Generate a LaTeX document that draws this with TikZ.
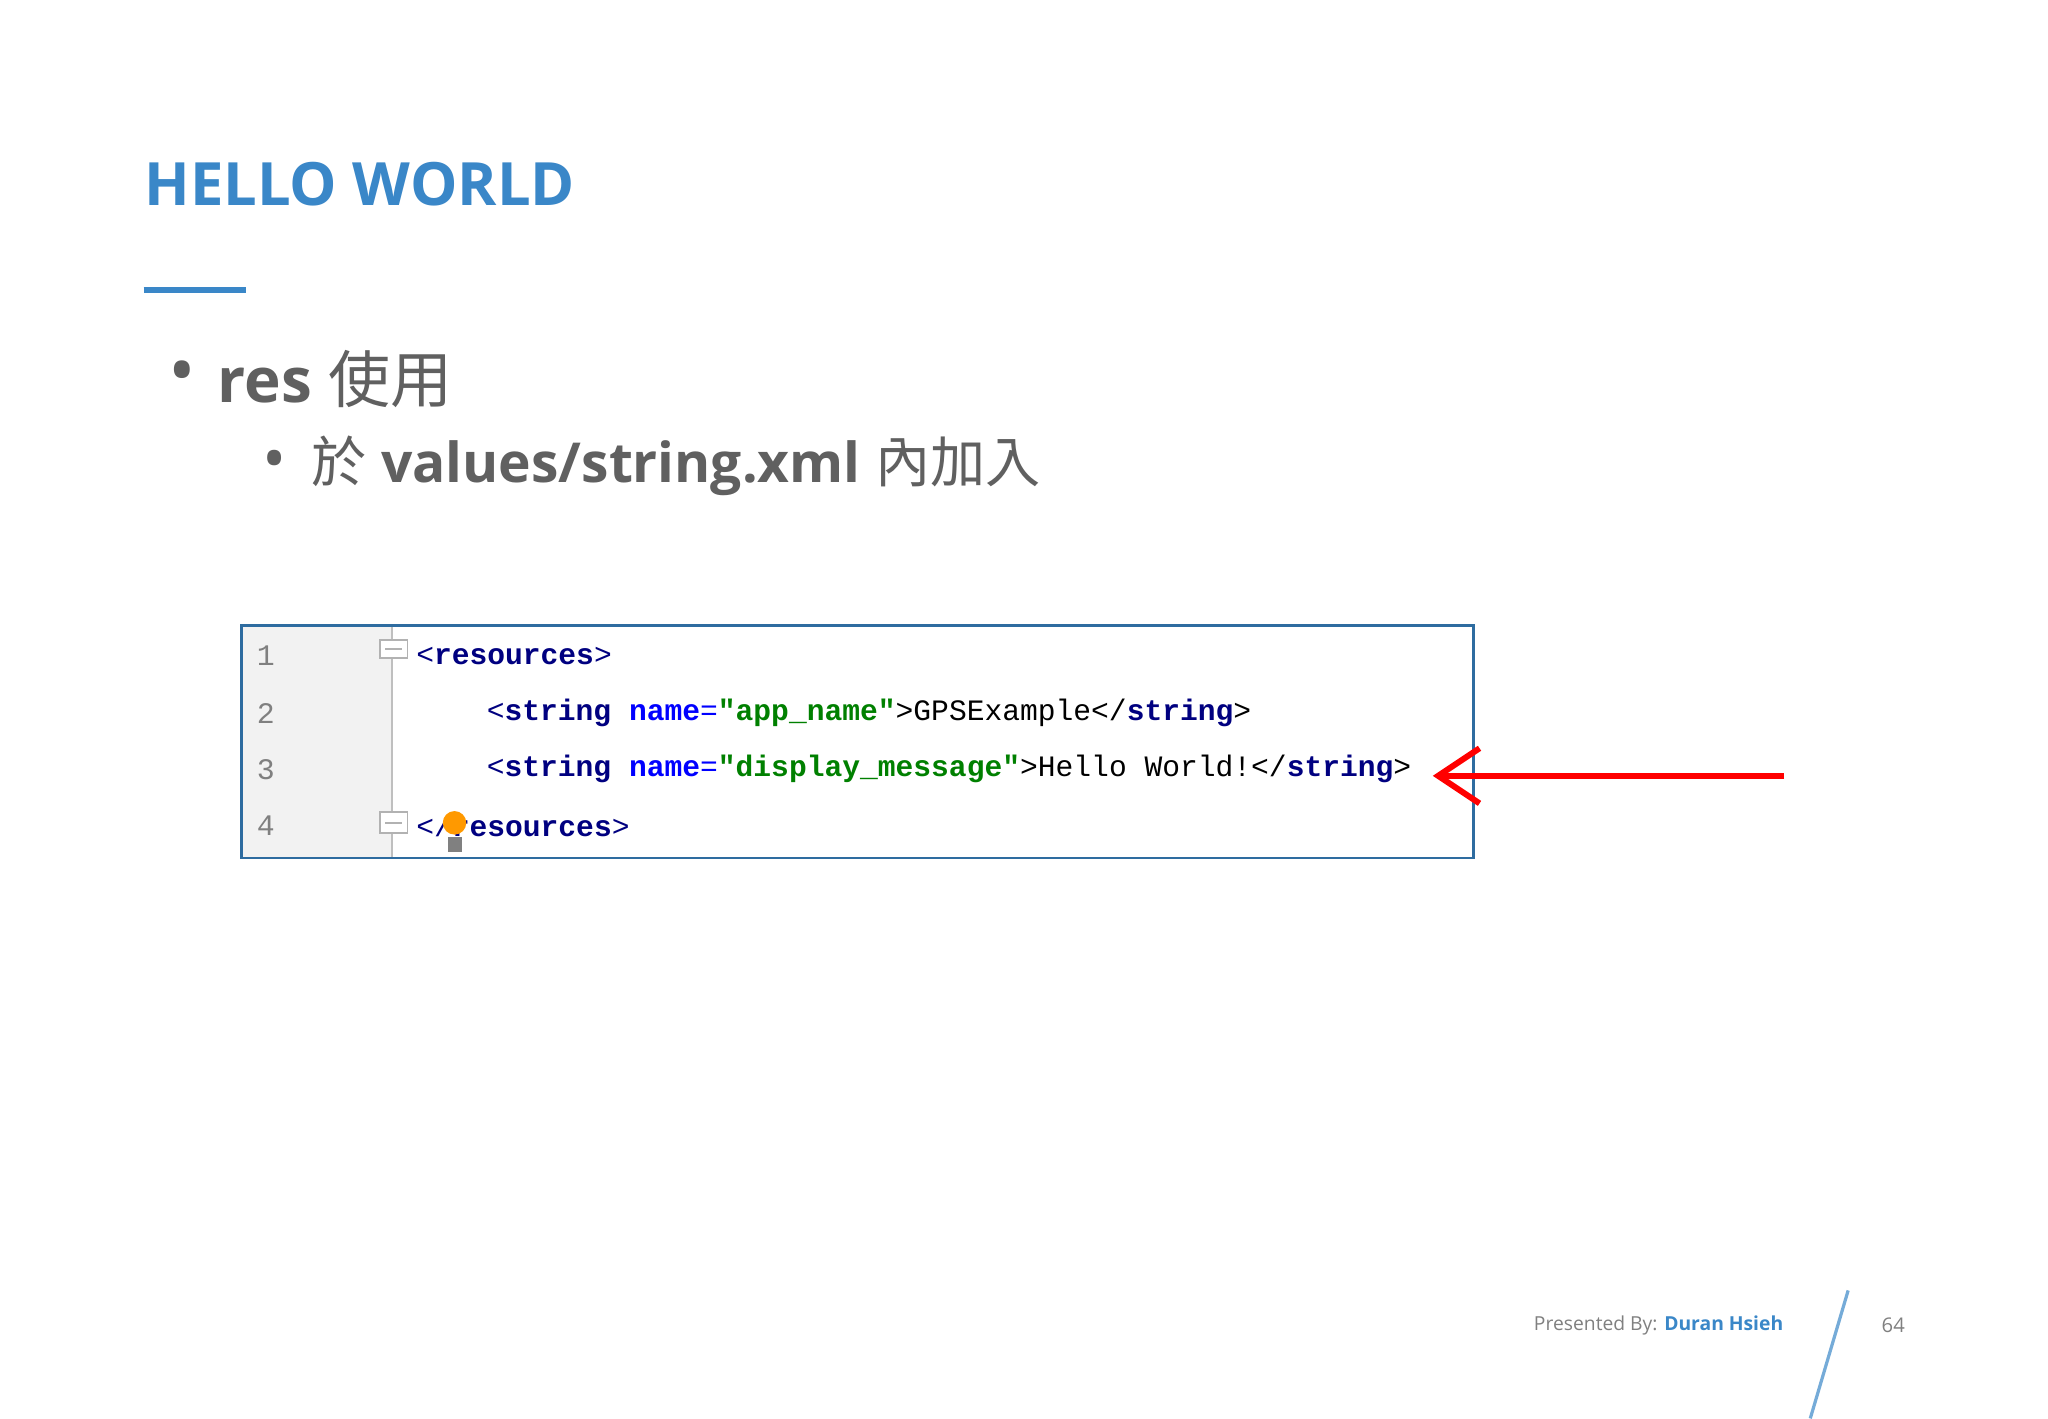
\documentclass[tikz,border=0pt]{standalone}
\usetikzlibrary{arrows.meta}
\usepackage{fontspec}
\setmainfont{Open Sans}
\newfontfamily\cjk{Noto Sans CJK TC}
\newfontfamily\codef{Liberation Mono}
\definecolor{ttl}{HTML}{3A87C8}
\definecolor{txt}{HTML}{606060}
\definecolor{kw}{HTML}{000080}
\definecolor{at}{HTML}{0000FF}
\definecolor{st}{HTML}{008000}
\tikzset{code/.style={anchor=west,inner sep=0,font=\codef\fontsize{6.45}{8}\selectfont},
 lnum/.style={anchor=west,inner sep=0,font=\codef\fontsize{6.5}{8}\selectfont,text=gray}}
\begin{document}
\begin{tikzpicture}[x=0.01cm,y=-0.01cm]
\useasboundingbox (0,0) rectangle (1568,1086);
\fill[white] (0,0) rectangle (1568,1086);
\node[anchor=west,inner sep=0,text=ttl,font=\bfseries\fontsize{13}{15}\selectfont] (title) at (110,141) {HELLO WORLD};
\draw[ttl,line width=1.2pt] (110,222) -- (188,222);
\node[anchor=west,inner sep=0,text=txt,font=\fontsize{16}{16}\selectfont] (b1) at (128,290) {•};
\node[anchor=west,inner sep=0,text=txt,font=\bfseries\fontsize{13.5}{16}\selectfont] (t1) at (166,290) {res {\cjk\mdseries 使用}};
\node[anchor=west,inner sep=0,text=txt,font=\fontsize{14}{14}\selectfont] (b2) at (200,357) {•};
\node[anchor=west,inner sep=0,text=txt,font=\bfseries\fontsize{12}{14}\selectfont] (t2) at (238,357) {{\cjk\mdseries 於} values/string.xml {\cjk\mdseries 內加入}};
% code box
\fill[gray!10] (185,479) rectangle (300,657);
\draw[gray!50] (300,479) -- (300,657);
\draw[ttl!80!black,line width=0.6pt] (185,479) rectangle (1128,657);
\foreach \n/\y in {1/502,2/546,3/589,4/632} \node[lnum] (l\n) at (196,\y) {\n};
\draw[gray!60,fill=white] (291,490) rectangle (312,504);
\draw[gray!60] (295,497) -- (308,497);
\draw[gray!60,fill=white] (291,622) rectangle (312,638);
\draw[gray!60] (295,630) -- (308,630);
\node[code] (c1) at (318,502) {\textcolor{kw}{<\textbf{resources}>}};
\node[code] (c2) at (372,546) {\textcolor{kw}{<\textbf{string}} \textcolor{at}{\textbf{name}=}\textcolor{st}{\textbf{"app\_name"}}>GPSExample</\textcolor{kw}{\textbf{string}}>};
\node[code] (c3) at (372,589) {\textcolor{kw}{<\textbf{string}} \textcolor{at}{\textbf{name}=}\textcolor{st}{\textbf{"display\_message"}}>Hello World!</\textcolor{kw}{\textbf{string}}>};
\node[code] (c4) at (318,632) {\textcolor{kw}{</\textbf{resources}>}};
\fill[orange!80!yellow] (348,630) circle (9);
\fill[gray] (343,641) rectangle (354,652);
% arrow
\coordinate (as) at (1366,594);
\coordinate (ae) at (1097,594);
\draw[red,line width=1.3pt,-{Straight Barb[length=9pt,width=12pt]}] (as) -- (ae);
% footer
\node[anchor=east,inner sep=0,font=\fontsize{4.2}{6}\selectfont] (ft) at (1366,1015) {\textcolor{gray}{Presented By:} \textcolor{ttl}{\bfseries Duran Hsieh}};
\draw[ttl!70,line width=0.7pt] (1415,988) -- (1386,1086);
\node[anchor=west,inner sep=0,text=gray,font=\fontsize{4.4}{6}\selectfont] (pg) at (1440,1015) {64};
\end{tikzpicture}
\end{document}
